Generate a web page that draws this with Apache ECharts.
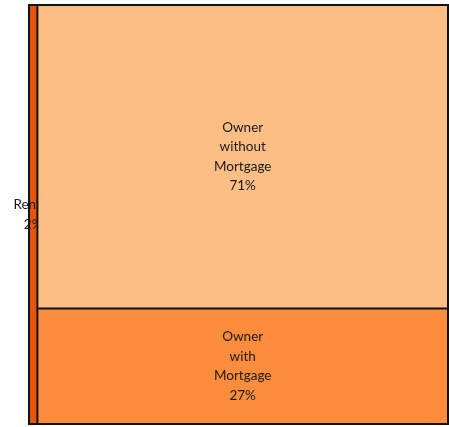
<!DOCTYPE html>
<html>
<head>
<meta charset="utf-8">
<style>
  *{margin:0;padding:0;}
  html,body,#chart{width:449px;height:427px;background:#fff;}
</style>
</head>
<body>
<div id="chart"></div>
<script src="https://cdn.jsdelivr.net/npm/echarts@6/dist/echarts.min.js"></script>
<script>
// tenure groups (owners split by mortgage), shares in percent
var groups = ['Renter', 'Owner'];
var ownerNames = ['Owner\nwithout\nMortgage', 'Owner\nwith\nMortgage'];
var ownerShares = [71, 27];
var renterShare = 2;
var colors = { renter: '#e6550d', without: '#fdbe85', with: '#fd8d3c' };

var chart = echarts.init(document.getElementById('chart'));

var data = [
  {
    name: groups[0],
    value: renterShare,
    itemStyle: { color: colors.renter },
    label: { overflow: 'none', width: 60 }
  },
  {
    name: groups[1],
    itemStyle: { color: colors.without, borderColor: '#111', borderWidth: 0, gapWidth: 0 },
    children: [
      { name: ownerNames[0], value: ownerShares[0], itemStyle: { color: colors.without } },
      { name: ownerNames[1], value: ownerShares[1], itemStyle: { color: colors['with'] } }
    ]
  }
];

chart.setOption({
  animation: false,
  series: [{
    type: 'treemap',
    left: 28,
    top: 4,
    width: 421,
    height: 421,
    roam: false,
    nodeClick: false,
    sort: false,
    breadcrumb: { show: false },
    itemStyle: { borderColor: '#111', borderWidth: 1, gapWidth: 0 },
    upperLabel: { show: false },
    label: {
      show: true,
      position: 'inside',
      align: 'center',
      verticalAlign: 'middle',
      color: '#1a1a1a',
      fontFamily: 'Lato',
      fontSize: 13.5,
      lineHeight: 19.5,
      formatter: function (p) { return p.name + '\n' + p.value + '%'; }
    },
    data: data
  }]
});
</script>
</body>
</html>
